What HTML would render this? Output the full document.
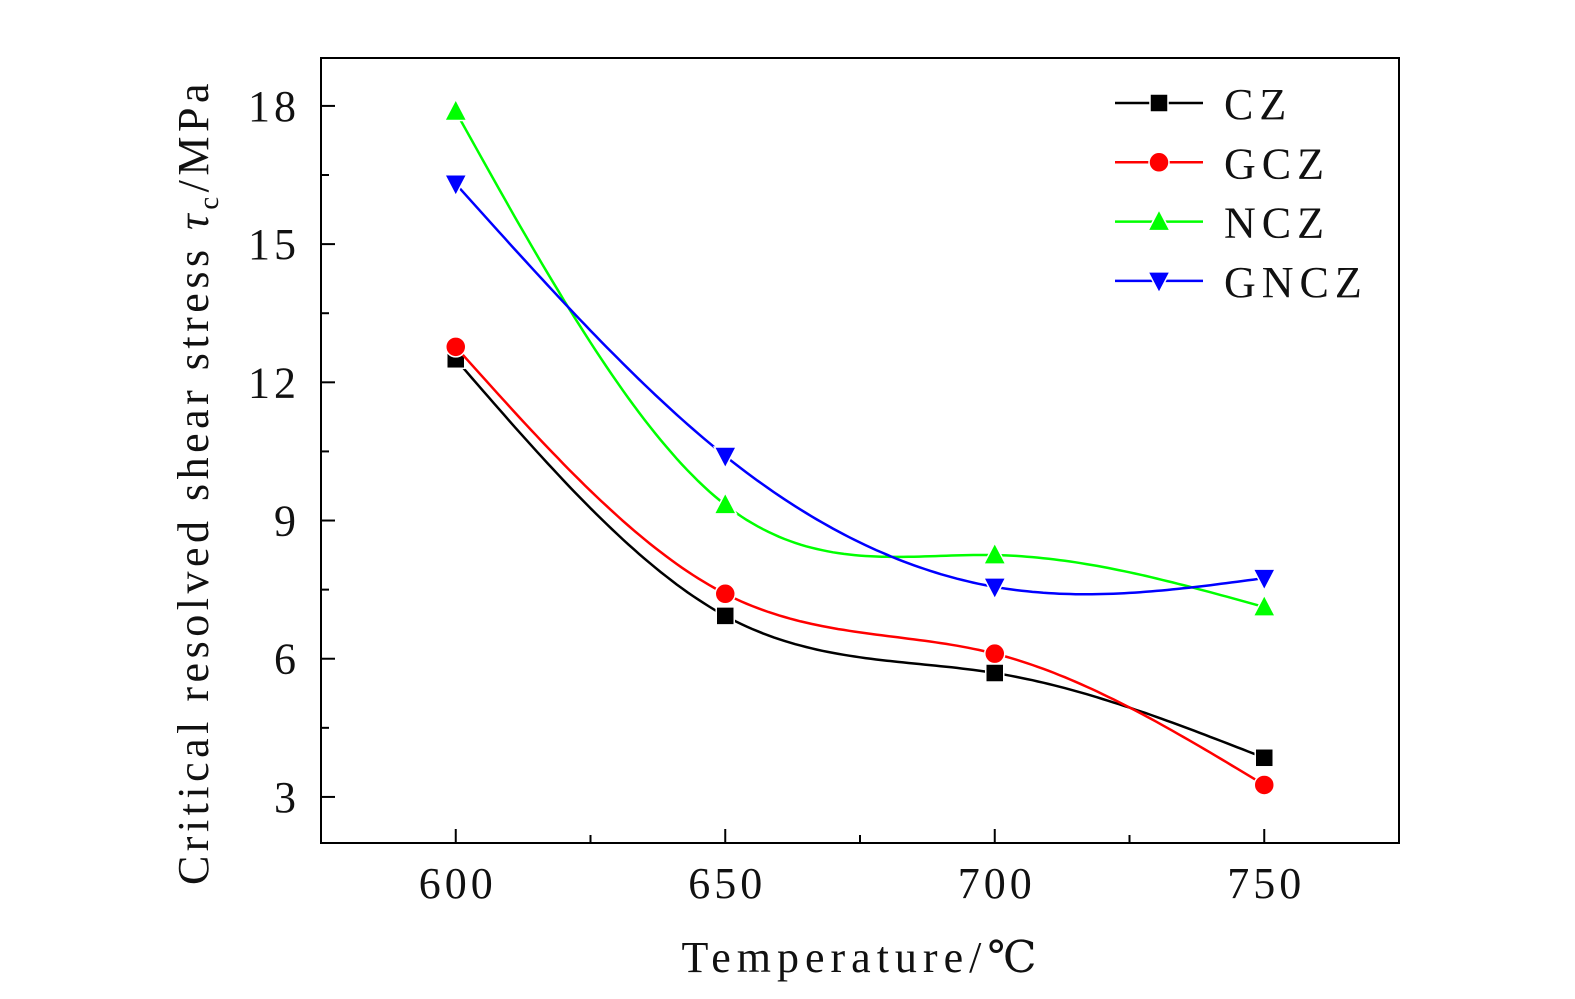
<!DOCTYPE html>
<html><head><meta charset="utf-8"><style>
body{margin:0;background:#fff}
svg text{font-family:"Liberation Serif","DejaVu Serif",serif;fill:#111}
</style></head><body>
<svg id="chart" width="1575" height="994" xmlns="http://www.w3.org/2000/svg">
<g id="plot"></g>
</svg>
<script>
const temps=[600,650,700,750];
const czValues=[12.5,6.93,5.69,3.85];
const gczValues=[12.77,7.41,6.11,3.26];
const nczValues=[17.88,9.34,8.25,7.12];
const gnczValues=[16.31,10.40,7.56,7.75];
const xTicks=[600,650,700,750];
const yTicks=[3,6,9,12,15,18];
const seriesNames=['CZ','GCZ','NCZ','GNCZ'];

const L=321,R=1399,T=58,B=843;
const xMin=575,xMax=775,yMin=2,yMax=19.04;
const sx=v=>L+(v-xMin)/(xMax-xMin)*(R-L);
const sy=v=>B-(v-yMin)/(yMax-yMin)*(B-T);
const NS='http://www.w3.org/2000/svg';
const g=document.getElementById('plot');
function mk(tag,attrs,parent){const e=document.createElementNS(NS,tag);for(const k in attrs)e.setAttribute(k,attrs[k]);(parent||g).appendChild(e);return e;}

const frame=mk('rect',{x:L,y:T,width:R-L,height:B-T,fill:'none',stroke:'#000','stroke-width':2});



for(let v=587.5;v<=775;v+=12.5){
  const major=xTicks.includes(v);const minor=(v%25===0);
  if(!major&&!minor)continue;
  const t=mk('line',{x1:sx(v),x2:sx(v),y1:B,y2:B-(major?14:8),stroke:'#000','stroke-width':2});
  
  
}
xTicks.forEach(v=>{const t=mk('text',{x:sx(v)+2,y:898,'font-size':44,'text-anchor':'middle','letter-spacing':'4'});t.textContent=v;
  
  });
for(let v=3;v<=18.5;v+=1.5){
  const major=yTicks.includes(v);
  const t=mk('line',{x1:L,x2:L+(major?14:8),y1:sy(v),y2:sy(v),stroke:'#000','stroke-width':2});
  
  
}
yTicks.forEach(v=>{const t=mk('text',{x:300,y:sy(v)+15,'font-size':44,'text-anchor':'end','letter-spacing':'4'});t.textContent=v;
  
  });

const xt=mk('text',{x:862,y:972,'font-size':44,'text-anchor':'middle','letter-spacing':'6'});xt.textContent='Temperature/℃';


const yt=mk('text',{x:0,y:0,'font-size':44,'text-anchor':'middle',transform:'translate(208,482) rotate(-90)','letter-spacing':'4.5'});
yt.innerHTML='Critical resolved shear stress <tspan font-style="italic">τ</tspan><tspan font-size="29" dy="10">c</tspan><tspan dy="-10">/MPa</tspan>';



function spline(xs,ys){
  const n=xs.length,h=[],a=[],l=[1],mu=[0],z=[0],c=new Array(n).fill(0),b=[],d=[];
  for(let i=0;i<n-1;i++)h.push(xs[i+1]-xs[i]);
  for(let i=1;i<n-1;i++)a[i]=3/h[i]*(ys[i+1]-ys[i])-3/h[i-1]*(ys[i]-ys[i-1]);
  for(let i=1;i<n-1;i++){l[i]=2*(xs[i+1]-xs[i-1])-h[i-1]*mu[i-1];mu[i]=h[i]/l[i];z[i]=(a[i]-h[i-1]*z[i-1])/l[i];}
  for(let j=n-2;j>0;j--){c[j]=z[j]-mu[j]*c[j+1];}
  for(let j=0;j<n-1;j++){b[j]=(ys[j+1]-ys[j])/h[j]-h[j]*(c[j+1]+2*c[j])/3;d[j]=(c[j+1]-c[j])/(3*h[j]);}
  return x=>{let j=Math.min(n-2,Math.max(0,xs.findIndex((v,i)=>x>=v&&x<=xs[i+1])));const dx=x-xs[j];return ys[j]+b[j]*dx+c[j]*dx*dx+d[j]*dx*dx*dx;};
}
function marker(type,x,y,color,size){
  let e;
  if(type==='sq')e=mk('rect',{x:x-size,y:y-size,width:2*size,height:2*size,fill:color,stroke:'#fff','stroke-width':1.5});
  else if(type==='ci')e=mk('circle',{cx:x,cy:y,r:size+1,fill:color,stroke:'#fff','stroke-width':1.5});
  else if(type==='up')e=mk('polygon',{points:`${x},${y-size-3} ${x-size-2},${y+size} ${x+size+2},${y+size}`,fill:color,stroke:'#fff','stroke-width':1.5});
  else e=mk('polygon',{points:`${x},${y+size+3} ${x-size-2},${y-size} ${x+size+2},${y-size}`,fill:color,stroke:'#fff','stroke-width':1.5});
  return e;
}
const series=[[czValues,'#000','sq'],[gczValues,'#f00','ci'],[nczValues,'#0f0','up'],[gnczValues,'#00f','dn']];
series.forEach(([vals,color,m],si)=>{
  const f=spline(temps,vals);let d='';
  for(let x=600;x<=750;x+=1)d+=(x===600?'M':'L')+sx(x).toFixed(1)+','+sy(f(x)).toFixed(1);
  const p=mk('path',{d,fill:'none',stroke:color,'stroke-width':2.5});
  
  
  temps.forEach((t,i)=>{const e=marker(m,sx(t),sy(vals[i]),color,9);
    
    });
  const ly=103+si*59.3;
  const ll=mk('line',{x1:1115,x2:1203,y1:ly,y2:ly,stroke:color,'stroke-width':2.5});
  
  
  const lm=marker(m,1159,ly,color,9);
  
  
  const lt=mk('text',{x:1224,y:ly+16,'font-size':44,'letter-spacing':'6'});lt.textContent=seriesNames[si];
  
  
});
</script>
</body></html>
